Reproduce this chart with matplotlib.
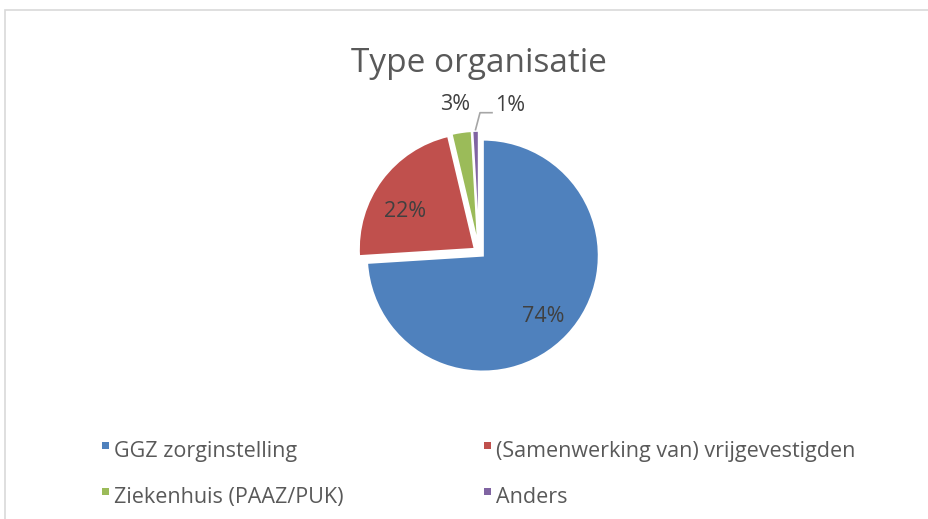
import numpy as np
import matplotlib.pyplot as plt
from matplotlib.patches import Rectangle

# data
labels = ['GGZ zorginstelling', '(Samenwerking van) vrijgevestigden',
          'Ziekenhuis (PAAZ/PUK)', 'Anders']
shares = [74.0, 22.3, 2.8, 0.9]
pct_text = ['74%', '22%', '3%', '1%']
colors = ['#4F81BD', '#C0504D', '#9BBB59', '#8064A2']

W, H = 929, 519
plt.rcParams['font.family'] = ['Open Sans', 'DejaVu Sans']

fig = plt.figure(figsize=(W / 100, H / 100), dpi=100)

# chart border (light gray, runs off right and bottom)
fig.patches.append(Rectangle((5 / W, -0.1), 1.1, 1 - 10 / H + 0.1,
                             transform=fig.transFigure, fill=False,
                             edgecolor='#D9D9D9', linewidth=1.2))

fig.text(479 / W, 1 - 72 / H, 'Type organisatie', ha='center', va='baseline',
         fontsize=24, color='#595959')

# pie axes: centre at (479, 252) px, radius 116 px
cx, cy, R, half = 479, 252, 116, 170
ax = fig.add_axes([(cx - half) / W, 1 - (cy + half) / H, 2 * half / W, 2 * half / H])
wedges, _ = ax.pie(shares, colors=colors, startangle=90, counterclock=False,
                   explode=[0.045] * 4,
                   wedgeprops=dict(edgecolor='white', linewidth=1.5))
lim = half / R
ax.set_xlim(-lim, lim)
ax.set_ylim(-lim, lim)
ax.axis('off')

# data labels
dist = [0.74, 0.68, 1.24, 1.25]
ang_off = [-2, 8, 1, -14]
for w, t, d, a in zip(wedges, pct_text, dist, ang_off):
    mid = np.deg2rad((w.theta1 + w.theta2) / 2 + a)
    x0, y0 = w.center
    ax.text(x0 + d * np.cos(mid), y0 + d * np.sin(mid), t, ha='center', va='center',
            fontsize=15.5, color='#404040')

# leader line for the smallest slice
w = wedges[3]
mid = np.deg2rad((w.theta1 + w.theta2) / 2)
x0, y0 = w.center
tip = (x0 + 1.01 * np.cos(mid), y0 + 1.01 * np.sin(mid))
elbow = ((480 - cx) / R, (cy - 112.7) / R)
start = ((492 - cx) / R, (cy - 112.7) / R)
ax.plot([start[0], elbow[0], tip[0]], [start[1], elbow[1], tip[1]],
        color='#A6A6A6', linewidth=1.2, clip_on=False)

# legend
xs = [102, 484, 102, 484]
ys = [457, 457, 503, 503]
for lab, col, x, y in zip(labels, colors, xs, ys):
    fig.patches.append(Rectangle((x / W, 1 - (y - 8) / H), 7 / W, 7.5 / H,
                                 transform=fig.transFigure, facecolor=col,
                                 edgecolor='none'))
    fig.text((x + 12) / W, 1 - y / H, lab, ha='left', va='baseline',
             fontsize=15.5, color='#595959')

fig.savefig('out.png', dpi=100)
